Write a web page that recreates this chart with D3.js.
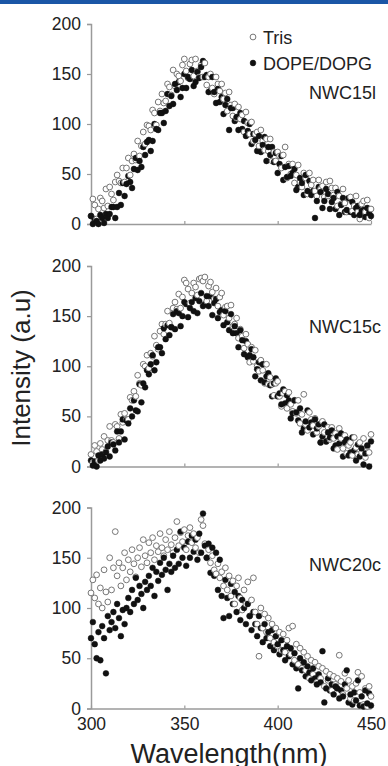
<!DOCTYPE html>
<html>
<head>
<meta charset="utf-8">
<script src="https://cdn.jsdelivr.net/npm/d3@7"></script>
<style>
  html, body { margin: 0; padding: 0; background: #fff; }
  svg { display: block; }
</style>
</head>
<body>
<div id="chart"></div>
<script>
// wavelength grid, 1 nm steps
const wavelengths = d3.range(300, 451);
const yTicks = [0, 50, 100, 150, 200];
const xTicks = [300, 350, 400, 450];
const panelNames = ["NWC15l", "NWC15c", "NWC20c"];
const seriesNames = ["Tris", "DOPE/DOPG"];

// NWC15l
const tris1 = [8,25,19,5,15,26,23,16,35,18, 37,30,24,42,49,43,41,56,42,56,
  66,49,63,70,64,83,68,78,92,80, 99,98,94,114,111,99,122,113,130,121,
  123,140,137,129,154,138,150,148,143,159, 165,153,146,160,164,148,165,153,147,159,
  147,161,139,147,150,136,130,147,140,133, 140,125,131,113,132,119,108,120,106,117,
  105,109,92,112,101,90,102,83,90,92, 78,94,83,74,85,73,85,63,72,63,
  72,68,56,69,77,46,60,50,60,41, 49,59,42,37,51,46,30,51,39,44,
  33,28,44,35,38,27,42,28,43,36, 29,36,18,28,20,35,21,12,25,27,
  13,18,28,12,5,20,23,12,24,6, 15];
const dope1 = [8,0,5,3,0,9,6,1,10,6, 10,17,17,6,17,31,19,41,28,40,
  48,42,36,55,66,54,63,57,77,69, 82,84,73,83,100,95,94,111,111,101,
  113,130,118,128,120,140,134,142,127,136, 150,136,147,145,154,138,142,152,146,157,
  163,147,149,132,133,147,132,121,135,122, 127,110,119,125,94,116,116,103,107,94,
  111,95,103,88,93,100,80,90,84,73, 88,72,79,87,63,77,69,77,62,71,
  51,60,68,44,57,47,58,48,51,55, 34,37,46,41,29,49,33,43,29,33,
  6,23,37,32,16,23,35,30,15,22, 26,15,32,9,19,26,12,14,26,12,
  22,9,16,18,9,13,14,7,16,11, 8];

// NWC15c
const tris2 = [12,4,21,15,6,23,17,30,15,26, 40,26,24,42,40,28,52,44,53,47,
  47,69,66,75,70,91,83,81,102,100, 111,98,113,110,130,121,117,135,142,132,
  142,155,143,139,158,164,157,172,158,169, 186,183,177,163,173,183,179,171,187,188,
  185,189,165,180,184,174,167,178,160,169, 173,151,159,160,148,161,140,142,148,128,
  137,130,118,132,122,104,119,105,116,100, 95,106,96,83,102,82,89,82,71,83,
  85,70,60,73,75,58,74,62,55,66, 53,66,43,52,72,42,36,54,47,41,
  48,34,40,24,45,34,25,39,27,39, 28,33,17,38,28,18,31,13,21,24,
  11,29,19,12,24,14,28,9,20,14, 32];
const dope2 = [6,1,5,0,11,6,12,8,14,20, 10,24,22,16,35,24,35,47,27,46,
  43,58,50,66,56,55,82,64,83,79, 96,92,102,111,96,104,119,119,113,138,
  127,141,131,139,152,137,155,153,140,150, 164,162,149,158,164,155,168,153,165,173,
  160,162,170,160,170,151,163,167,148,154, 156,141,155,144,136,152,133,140,133,119,
  136,126,112,125,109,111,117,109,90,97, 104,86,102,84,90,93,81,70,83,88,
  70,73,62,77,63,71,66,48,53,66, 54,46,58,34,38,45,56,39,44,32,
  47,38,42,24,30,42,25,34,29,36, 18,21,30,23,33,10,24,27,11,14,
  29,16,6,22,10,18,2,13,21,0, 25];

// NWC20c
const tris3 = [115,128,110,133,104,120,100,138,116,106, 150,118,140,176,132,145,122,140,155,128,
  148,136,158,144,131,150,160,141,168,152, 145,165,155,170,148,162,156,174,160,152,
  168,158,176,163,155,170,186,162,175,166, 178,158,172,180,165,174,160,170,155,188,
  182,164,150,158,145,152,138,134,144,130, 136,122,140,118,132,112,127,104,122,130,
  110,98,118,104,126,92,108,130,96,84, 52,100,80,94,76,90,70,84,66,80,
  62,76,58,74,56,68,80,54,82,48, 64,44,60,40,56,38,52,30,48,34,
  46,26,42,30,40,22,37,28,34,18, 32,24,30,53,27,14,35,20,28,10,
  22,8,25,36,16,32,4,20,2,22, 12];
const dope3 = [70,86,64,50,76,48,82,70,35,92, 78,86,96,80,104,90,72,98,84,100,
  110,96,118,104,130,108,122,114,100,126, 118,132,122,140,112,136,127,145,133,150,
  138,118,144,136,152,140,158,144,176,150, 160,142,166,150,172,156,168,148,174,155,
  194,162,150,164,135,160,132,155,118,148, 112,90,128,110,92,124,104,116,96,112,
  88,108,100,84,104,92,78,96,84,72, 92,80,66,84,70,76,62,78,58,72,
  64,54,68,58,48,62,52,60,44,55, 40,20,50,38,46,32,42,36,28,40,
  30,24,34,26,57,6,20,30,18,24, 14,22,20,10,18,12,24,38,6,14,
  4,16,8,28,3,12,2,18,5,15, 3];

const panels = [
  { name: panelNames[0], tris: tris1, dope: dope1, top: 24, bottom: 224, labelY: 98.5 },
  { name: panelNames[1], tris: tris2, dope: dope2, top: 266, bottom: 466.5, labelY: 333 },
  { name: panelNames[2], tris: tris3, dope: dope3, top: 507.5, bottom: 708.5, labelY: 571 }
];

const W = 388, H = 766;
const left = 91, right = 371;
const axisColor = "#9a9a9a";
const textColor = "#222";
const font = "'Liberation Sans', Arial, sans-serif";
const r = 2.9;

const svg = d3.select("#chart").append("svg")
  .attr("width", W)
  .attr("height", H)
  .attr("viewBox", [0, 0, W, H]);

// blue strip along the top edge
svg.append("rect")
  .attr("x", 0).attr("y", 0)
  .attr("width", W).attr("height", 4)
  .attr("fill", "#1a56a6");

const x = d3.scaleLinear().domain([300, 450]).range([left, right]);

panels.forEach((p, pi) => {
  const y = d3.scaleLinear().domain([0, 200]).range([p.bottom, p.top]);
  const g = svg.append("g");

  // y axis
  const yAxis = g.append("g")
    .attr("transform", `translate(${left},0)`)
    .call(d3.axisLeft(y).tickValues(yTicks).tickSize(4).tickPadding(6));
  // x axis (ticks point up into the plot)
  const xAxis = g.append("g")
    .attr("transform", `translate(0,${p.bottom})`)
    .call(d3.axisBottom(x).tickValues(xTicks).tickSizeInner(-3).tickSizeOuter(0).tickPadding(9));

  [yAxis, xAxis].forEach(a => {
    a.select(".domain").attr("stroke", axisColor).attr("stroke-width", 1.5);
    a.selectAll(".tick line").attr("stroke", axisColor).attr("stroke-width", 1.2);
    a.selectAll("text")
      .attr("fill", textColor)
      .style("font-family", font)
      .style("font-size", "17.5px");
  });
  if (pi < 2) xAxis.selectAll("text").remove();

  // points, interleaved so neither series sits fully on top
  const pts = [];
  wavelengths.forEach((wl, i) => {
    pts.push({ wl: wl, v: p.tris[i], s: 0 });
    pts.push({ wl: wl, v: p.dope[i], s: 1 });
  });
  g.append("g")
    .selectAll("circle")
    .data(pts)
    .join("circle")
    .attr("cx", d => x(d.wl))
    .attr("cy", d => y(d.v))
    .attr("r", r)
    .attr("fill", d => d.s === 0 ? "#fff" : "#111")
    .attr("stroke", d => d.s === 0 ? "#777" : "#111")
    .attr("stroke-width", d => d.s === 0 ? 1 : 0.5);

  g.append("text")
    .attr("x", 309)
    .attr("y", p.labelY)
    .attr("fill", textColor)
    .style("font-family", font)
    .style("font-size", "18px")
    .text(p.name);
});

// legend in the first panel
const legend = svg.append("g");
seriesNames.forEach((name, i) => {
  const ly = 37 + i * 26;
  legend.append("circle")
    .attr("cx", 253)
    .attr("cy", ly)
    .attr("r", r)
    .attr("fill", i === 0 ? "#fff" : "#111")
    .attr("stroke", i === 0 ? "#777" : "#111")
    .attr("stroke-width", i === 0 ? 1 : 0.5);
  legend.append("text")
    .attr("x", 263)
    .attr("y", ly + 6.5)
    .attr("fill", textColor)
    .style("font-family", font)
    .style("font-size", "18px")
    .text(name);
});

// axis titles
svg.append("text")
  .attr("transform", "translate(30,368) rotate(-90)")
  .attr("text-anchor", "middle")
  .attr("fill", textColor)
  .style("font-family", font)
  .style("font-size", "26px")
  .text("Intensity (a.u)");

svg.append("text")
  .attr("x", 229)
  .attr("y", 763)
  .attr("text-anchor", "middle")
  .attr("fill", textColor)
  .style("font-family", font)
  .style("font-size", "27px")
  .text("Wavelength(nm)");
</script>
</body>
</html>
